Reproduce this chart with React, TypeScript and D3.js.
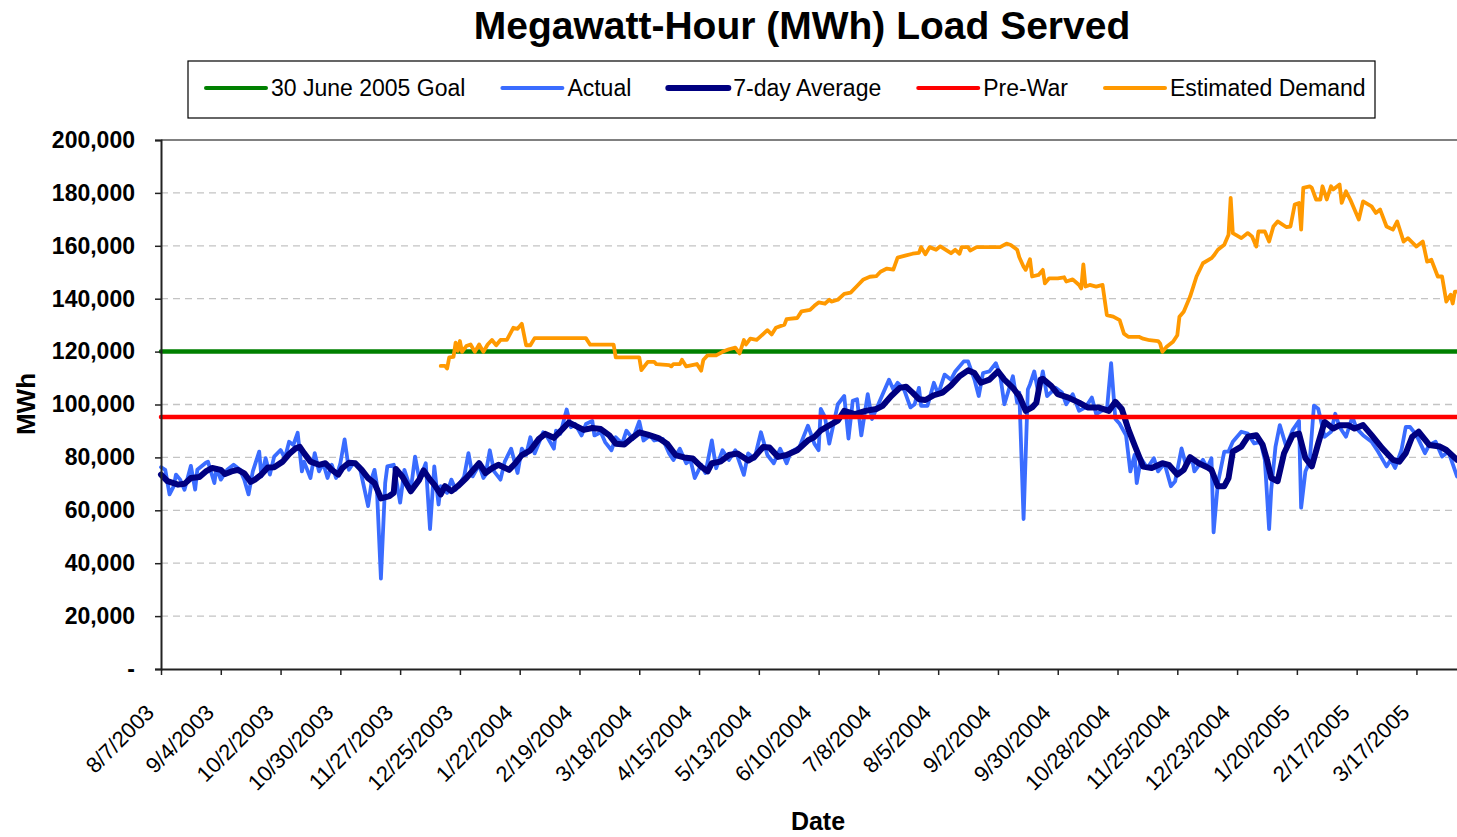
import React, { useEffect, useRef } from "react";
import * as d3 from "d3";

// first day of the record; every series below is [days since startDate, MWh]
const startDate = "8/7/2003";
const lastDay = 607;

const tickLabels = [
  "8/7/2003", "9/4/2003", "10/2/2003", "10/30/2003", "11/27/2003", "12/25/2003",
  "1/22/2004", "2/19/2004", "3/18/2004", "4/15/2004", "5/13/2004", "6/10/2004",
  "7/8/2004", "8/5/2004", "9/2/2004", "9/30/2004", "10/28/2004", "11/25/2004",
  "12/23/2004", "1/20/2005", "2/17/2005", "3/17/2005",
];
const yTicks = [0, 20000, 40000, 60000, 80000, 100000, 120000, 140000, 160000, 180000, 200000];

const goalMWh = 120000;
const preWarMWh = 95300;

const actual: [number, number][] = [
  [0, 76300], [2, 75300], [4, 66000], [6, 69100], [7, 73500], [9, 71600], [11, 67800], [14, 76800],
  [16, 67800], [17, 75300], [21, 78000], [22, 78400], [25, 70300], [26, 76000], [28, 71600], [31, 75300],
  [34, 77200], [37, 75300], [39, 71600], [41, 66000], [43, 74700], [46, 82200], [47, 72800], [49, 79700],
  [51, 73500], [53, 80300], [56, 82800], [58, 79700], [60, 85900], [62, 84700], [64, 89300], [66, 74700],
  [67, 78400], [70, 72200], [72, 81600], [74, 74700], [76, 77800], [78, 72200], [80, 77200], [82, 72200],
  [84, 77800], [86, 86800], [88, 75300], [90, 77800], [93, 76600], [95, 69100], [97, 61600], [99, 72800],
  [100, 75300], [101, 70300], [103, 34200], [105, 70300], [106, 76600], [109, 77200], [112, 62900], [114, 75300],
  [117, 67800], [119, 80300], [121, 71600], [124, 77800], [126, 52900], [128, 76600], [130, 62200], [131, 69100],
  [134, 66600], [136, 71600], [138, 67800], [142, 72800], [144, 81600], [146, 72800], [149, 77200], [151, 72200],
  [152, 73400], [154, 82700], [156, 74700], [159, 71600], [161, 78400], [164, 83300], [167, 74100], [169, 83300],
  [171, 80900], [173, 87600], [175, 81500], [179, 89500], [181, 87600], [184, 83300], [185, 90100], [187, 88900],
  [190, 98100], [192, 91400], [194, 92600], [197, 88300], [199, 92600], [202, 93800], [203, 88300], [206, 89500],
  [208, 85800], [211, 82700], [213, 87600], [216, 85200], [218, 90100], [221, 87000], [224, 93600], [226, 86400],
  [229, 88300], [231, 86400], [235, 87000], [238, 81500], [240, 79000], [243, 83300], [246, 77800], [248, 79000],
  [250, 72200], [253, 77200], [255, 74100], [258, 86400], [260, 75900], [263, 82700], [266, 79000], [269, 82700],
  [273, 73400], [275, 81500], [278, 79600], [281, 89500], [284, 80900], [287, 77800], [290, 83300], [293, 77800],
  [295, 82100], [299, 83900], [303, 92000], [306, 85200], [308, 82700], [309, 98300], [311, 95200], [313, 85200],
  [315, 92700], [317, 100100], [320, 103200], [322, 87100], [324, 101400], [326, 102000], [328, 88300], [331, 103900],
  [333, 94500], [338, 103900], [341, 109400], [343, 105700], [345, 108200], [348, 105700], [351, 98900], [353, 100100],
  [355, 106300], [356, 99500], [359, 99500], [362, 108200], [364, 103900], [367, 111300], [370, 109400], [372, 112500],
  [376, 116300], [378, 116300], [381, 109400], [383, 103200], [385, 111900], [388, 112500], [391, 115600], [393, 111300],
  [395, 100100], [399, 110700], [401, 100700], [402, 104500], [404, 56700], [406, 105700], [407, 107600], [409, 112500],
  [411, 103900], [413, 112500], [415, 103200], [419, 106300], [422, 104500], [424, 100100], [427, 103900], [430, 97600],
  [433, 98900], [436, 102600], [438, 96400], [442, 98300], [443, 97600], [445, 115600], [447, 94500], [449, 92700],
  [452, 88300], [454, 74700], [456, 80900], [457, 70300], [459, 79600], [462, 76000], [465, 79700], [467, 74700],
  [470, 77800], [473, 69100], [475, 71000], [478, 83400], [480, 77200], [483, 79100], [484, 74700], [488, 79100],
  [490, 76000], [492, 79700], [493, 51700], [495, 70300], [498, 82200], [500, 82200], [502, 85900], [506, 89700],
  [509, 89000], [512, 85300], [515, 85900], [517, 79100], [519, 52900], [520, 67800], [522, 84100], [524, 92200],
  [527, 84100], [530, 90300], [533, 93800], [534, 61000], [536, 74700], [538, 78400], [540, 99600], [542, 98400],
  [545, 87800], [548, 89700], [550, 96500], [552, 91500], [555, 87800], [558, 95300], [560, 90900], [563, 88400],
  [567, 85900], [570, 82200], [574, 76600], [576, 79100], [578, 76000], [581, 82800], [583, 91500], [585, 91500],
  [588, 88400], [592, 81600], [594, 84700], [597, 85900], [600, 80300], [603, 82200], [607, 72800],
];

const sevenDayAvg: [number, number][] = [
  [0, 73500], [3, 71000], [8, 69700], [11, 70000], [14, 72200], [18, 72600], [21, 74700], [24, 76000],
  [28, 75300], [30, 73700], [33, 74700], [36, 75300], [39, 74000], [42, 70700], [44, 71600], [47, 73500],
  [50, 76200], [53, 76300], [57, 78400], [60, 81300], [63, 83400], [65, 84000], [67, 81600], [70, 78400],
  [74, 77200], [77, 77800], [80, 75300], [83, 73500], [85, 76000], [88, 78000], [91, 77800], [94, 75300],
  [97, 72200], [100, 70300], [103, 64500], [107, 65400], [109, 66600], [110, 75600], [113, 72800], [117, 67200],
  [121, 71600], [123, 75100], [126, 71600], [128, 69700], [131, 66000], [133, 69100], [136, 67200], [139, 69100],
  [143, 72200], [149, 77800], [152, 74100], [155, 75900], [158, 77200], [163, 75300], [166, 77800], [169, 80900],
  [173, 82700], [177, 87000], [180, 88900], [184, 87400], [188, 90700], [191, 93200], [194, 92000], [198, 90400],
  [202, 91100], [206, 90700], [210, 88300], [213, 85200], [217, 84900], [221, 87600], [224, 89500], [228, 88600],
  [233, 87300], [237, 85200], [241, 80900], [245, 80000], [249, 79600], [253, 76500], [256, 74700], [258, 77800],
  [262, 78400], [266, 80900], [270, 81500], [275, 78800], [278, 80200], [282, 83900], [285, 83700], [289, 80200],
  [293, 80900], [298, 82700], [303, 86400], [306, 87700], [309, 90200], [313, 92100], [317, 93900], [320, 97600],
  [325, 96400], [330, 97600], [335, 98300], [338, 99500], [342, 103200], [346, 106300], [349, 106700], [352, 104500],
  [355, 102000], [358, 101700], [362, 103500], [366, 104500], [370, 107200], [374, 110700], [378, 112900], [381, 111900],
  [384, 108200], [388, 109400], [392, 112500], [395, 109400], [399, 106300], [402, 103200], [405, 97600], [408, 98900],
  [410, 100700], [412, 109400], [413, 109700], [417, 107000], [420, 103900], [425, 102600], [430, 100700], [434, 98900],
  [439, 98900], [444, 97600], [447, 101000], [450, 98300], [453, 90800], [456, 84600], [460, 76500], [464, 76000],
  [469, 77800], [472, 77200], [476, 73500], [479, 75300], [482, 80100], [486, 77800], [490, 76300], [492, 75300],
  [495, 69100], [498, 69100], [500, 72200], [502, 82200], [506, 84100], [509, 87800], [513, 88400], [516, 84700],
  [518, 79100], [520, 72200], [523, 71000], [526, 81600], [530, 88400], [533, 89000], [536, 79700], [539, 76600],
  [542, 85300], [545, 93400], [549, 90900], [552, 92200], [556, 92200], [559, 90900], [563, 92200], [567, 88400],
  [572, 83400], [577, 79100], [580, 78400], [583, 81600], [586, 87800], [589, 89700], [594, 84700], [599, 84100],
  [602, 82800], [607, 79100],
];

const estimatedDemand: [number, number][] = [
  [131, 114600], [133, 114600], [134, 113600], [135, 117800], [137, 118000], [138, 123400], [139, 120300], [140, 124000],
  [141, 119900], [143, 122100], [145, 122700], [147, 119900], [149, 122700], [151, 119900], [153, 122700], [155, 124400],
  [157, 122400], [159, 124400], [162, 124400], [165, 129000], [167, 128600], [169, 130500], [171, 122400], [173, 122400],
  [175, 125100], [199, 125100], [201, 122600], [212, 122600], [213, 117800], [224, 117800], [225, 113000], [228, 116100],
  [231, 116100], [232, 115300], [238, 114900], [239, 114400], [240, 115300], [243, 115300], [244, 116900], [246, 114400],
  [251, 115300], [253, 112800], [254, 116800], [256, 118600], [260, 118600], [263, 119900], [266, 120900], [269, 121500],
  [271, 119300], [273, 124400], [274, 122700], [276, 124900], [279, 124400], [284, 128100], [286, 126500], [288, 129000],
  [292, 130200], [293, 132300], [298, 132700], [300, 135200], [304, 135800], [306, 137300], [308, 138600], [311, 138100],
  [313, 139600], [314, 138900], [317, 139600], [320, 141800], [323, 142300], [326, 144800], [329, 147300], [332, 148300],
  [335, 148500], [337, 150200], [340, 151400], [343, 151000], [345, 155500], [349, 156400], [352, 157000], [355, 157300],
  [356, 159500], [358, 156800], [360, 159500], [363, 158500], [365, 159800], [370, 157200], [372, 158500], [374, 157000],
  [375, 159500], [378, 159500], [379, 158200], [382, 159500], [393, 159500], [396, 160800], [398, 160300], [401, 158500],
  [402, 155700], [404, 152100], [405, 150900], [407, 154900], [408, 148400], [411, 149000], [413, 150900], [414, 145800],
  [416, 147700], [420, 147700], [423, 148100], [424, 146500], [427, 147300], [430, 145200], [431, 143900], [432, 153000],
  [433, 144600], [435, 145200], [438, 144600], [441, 145200], [443, 133800], [446, 133200], [449, 131900], [451, 126800],
  [453, 125600], [458, 125600], [460, 124900], [463, 124300], [467, 124000], [468, 123000], [469, 119900], [471, 121800],
  [474, 123700], [476, 126200], [477, 133200], [479, 135100], [482, 140800], [485, 148400], [488, 153400], [492, 155300],
  [493, 156200], [495, 158500], [498, 160400], [500, 164200], [501, 178100], [502, 164800], [506, 162900], [509, 164800],
  [511, 163500], [513, 159700], [514, 165400], [517, 165400], [519, 161600], [521, 167300], [523, 169200], [527, 167100],
  [529, 167300], [531, 175600], [533, 176200], [534, 166100], [535, 181900], [538, 182500], [539, 181900], [541, 177500],
  [543, 177500], [544, 182500], [546, 177500], [548, 182500], [549, 181300], [552, 183200], [553, 176200], [555, 180600],
  [557, 177500], [561, 169900], [563, 176800], [567, 174900], [569, 172400], [571, 173700], [574, 167300], [577, 166100],
  [579, 169200], [582, 161600], [584, 162900], [588, 159700], [591, 161600], [593, 154000], [595, 154700], [598, 148400],
  [600, 148400], [602, 138900], [604, 141500], [605, 138200], [606, 142700], [607, 142700],
];

const seriesNames = ["30 June 2005 Goal", "Actual", "7-day Average", "Pre-War", "Estimated Demand"];
const seriesColors = ["#008000", "#3a6cff", "#000080", "#ff0000", "#ff9900"];

const FONT = "'Liberation Sans', Arial, Helvetica, sans-serif";

function App() {
  const chart = useRef<SVGSVGElement>(null);

  useEffect(() => {
    const width = 1457;
    const height = 837;
    const margin = { top: 140, right: 0, bottom: 168, left: 161 };
    const svg = d3.select(chart.current);
    svg.selectAll("*").remove();

    const parse = d3.timeParse("%m/%d/%Y");
    const t0 = parse(startDate) as Date;
    const day = (n: number) => d3.timeDay.offset(t0, n);

    const x = d3.scaleTime()
      .domain([t0, day(lastDay)])
      .range([margin.left, width - margin.right]);
    const y = d3.scaleLinear()
      .domain([0, 200000])
      .range([height - margin.bottom, margin.top]);

    // title
    svg.append("text")
      .attr("x", 802).attr("y", 39)
      .attr("text-anchor", "middle")
      .style("font", `bold 39px ${FONT}`)
      .text("Megawatt-Hour (MWh) Load Served");

    // dashed gridlines
    svg.append("g")
      .selectAll("line")
      .data(yTicks.filter(v => v > 0 && v < 200000))
      .enter()
      .append("line")
        .attr("x1", x.range()[0]).attr("x2", x.range()[1])
        .attr("y1", d => y(d)).attr("y2", d => y(d))
        .attr("stroke", "#c4c4c4")
        .attr("stroke-width", 1.3)
        .attr("stroke-dasharray", "7,5");

    // plot top border
    svg.append("line")
      .attr("x1", x.range()[0]).attr("x2", x.range()[1])
      .attr("y1", y(200000)).attr("y2", y(200000))
      .attr("stroke", "#808080").attr("stroke-width", 2);

    const line = d3.line<[number, number]>()
      .x(d => x(day(d[0])))
      .y(d => y(d[1]))
      .curve(d3.curveLinear);

    const flat = (v: number): [number, number][] => [[0, v], [lastDay, v]];

    const series: { data: [number, number][]; color: string; w: number }[] = [
      { data: flat(goalMWh), color: seriesColors[0], w: 4.5 },
      { data: actual, color: seriesColors[1], w: 3.8 },
      { data: sevenDayAvg, color: seriesColors[2], w: 6 },
      { data: flat(preWarMWh), color: seriesColors[3], w: 4.5 },
      { data: estimatedDemand, color: seriesColors[4], w: 3.8 },
    ];

    svg.append("g")
      .selectAll("path")
      .data(series)
      .enter()
      .append("path")
        .attr("d", d => line(d.data))
        .attr("fill", "none")
        .attr("stroke", d => d.color)
        .attr("stroke-width", d => d.w)
        .attr("stroke-linejoin", "round")
        .attr("stroke-linecap", "round");

    // y axis
    const yAxis = d3.axisLeft(y)
      .tickValues(yTicks)
      .tickSize(6)
      .tickPadding(20)
      .tickFormat(v => (+v === 0 ? "-" : d3.format(",")(+v)));
    const gy = svg.append("g")
      .attr("transform", `translate(${margin.left},0)`)
      .call(yAxis);
    gy.select(".domain").attr("stroke", "#222").attr("stroke-width", 2);
    gy.selectAll(".tick line").attr("stroke", "#222").attr("stroke-width", 1.5);
    gy.selectAll(".tick text")
      .style("font", `bold 23px ${FONT}`)
      .attr("fill", "#000");

    // x axis
    const tickDates = tickLabels.map(s => parse(s) as Date);
    const xAxis = d3.axisBottom(x)
      .tickValues(tickDates)
      .tickSize(6)
      .tickSizeOuter(0)
      .tickFormat((_, i) => tickLabels[i]);
    const gx = svg.append("g")
      .attr("transform", `translate(0,${height - margin.bottom})`)
      .call(xAxis);
    gx.select(".domain").attr("stroke", "#222").attr("stroke-width", 2);
    gx.selectAll(".tick line").attr("stroke", "#222").attr("stroke-width", 1.5);
    gx.selectAll(".tick text")
      .style("font", `22px ${FONT}`)
      .attr("fill", "#000")
      .attr("text-anchor", "end")
      .attr("x", 0).attr("y", 0).attr("dy", 0)
      .attr("transform", "translate(-6,45) rotate(-45)");

    // axis titles
    svg.append("text")
      .attr("transform", "translate(35,404) rotate(-90)")
      .attr("text-anchor", "middle")
      .style("font", `bold 26px ${FONT}`)
      .text("MWh");
    svg.append("text")
      .attr("x", 818).attr("y", 830)
      .attr("text-anchor", "middle")
      .style("font", `bold 25px ${FONT}`)
      .text("Date");

    // legend
    const legend = svg.append("g");
    legend.append("rect")
      .attr("x", 188).attr("y", 61)
      .attr("width", 1187).attr("height", 57)
      .attr("fill", "#fff")
      .attr("stroke", "#000")
      .attr("stroke-width", 1.2);
    let cursor = 206;
    seriesNames.forEach((name, i) => {
      const item = legend.append("g");
      item.append("line")
        .attr("x1", cursor).attr("x2", cursor + 60)
        .attr("y1", 88).attr("y2", 88)
        .attr("stroke", seriesColors[i])
        .attr("stroke-width", i === 2 ? 6 : 4)
        .attr("stroke-linecap", "round");
      const label = item.append("text")
        .attr("x", cursor + 65).attr("y", 96)
        .style("font", `23px ${FONT}`)
        .text(name);
      const w = (label.node() as SVGTextElement).getComputedTextLength();
      cursor += 65 + w + 37;
    });

    return () => {
      svg.selectAll("*").remove();
    };
  }, []);

  return (
    <svg
      ref={chart}
      width={1457}
      height={837}
      style={{ position: "absolute", left: 0, top: 0, background: "#fff" }}
    ></svg>
  );
}

export default App;
